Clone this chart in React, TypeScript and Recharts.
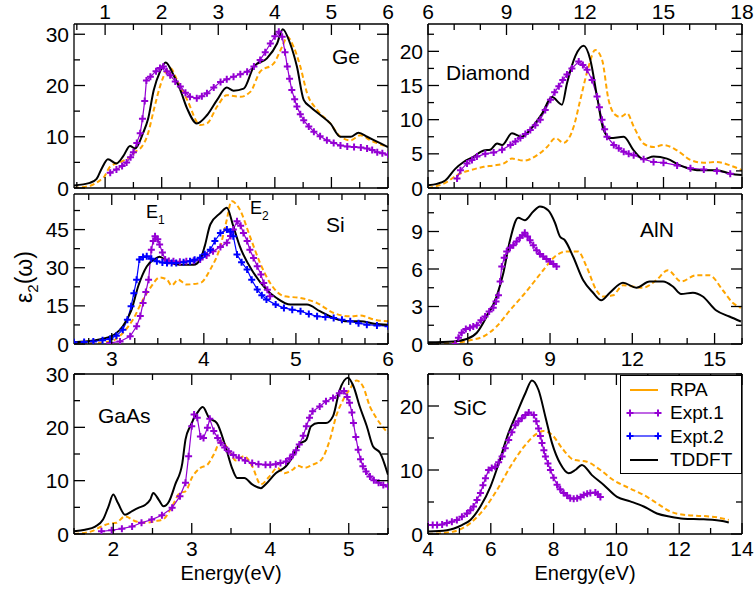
import React from 'react';
import { LineChart, Line, XAxis, YAxis, Legend } from 'recharts';

const FONT = '"Liberation Sans", Arial, Helvetica, sans-serif';
const W = 754;
const H = 592;

// ---------- Ge ----------
const geXMajor = [1, 2, 3, 4, 5, 6];
const geXMinor = [0.5, 1.5, 2.5, 3.5, 4.5, 5.5];
const geYMajor = [0, 10, 20, 30];
const geYMinor = [5, 15, 25];
const geRpa = [[0.45,0],[0.75,0.5],[0.91,1.5],[0.97,2.0],[1.09,4.2],[1.2,4.8],[1.3,5.2],[1.44,6.1],[1.55,7.2],[1.62,7.7],[1.76,10.7],[1.86,15.2],[1.97,19.8],[2.09,23.0],[2.15,23.4],[2.27,21.1],[2.45,17.2],[2.68,12.3],[2.8,12.6],[2.98,15.9],[3.15,18.1],[3.39,17.8],[3.57,18.8],[3.74,22.7],[3.98,24.3],[4.13,27.6],[4.22,29.5],[4.33,27.6],[4.45,23.7],[4.57,18.5],[4.75,15.2],[4.98,12.6],[5.16,10.0],[5.34,9.3],[5.51,10.3],[5.69,9.3],[6.0,8.0]];
const geExpt1 = [[1.09,3.0],[1.2,3.6],[1.3,4.3],[1.38,5.0],[1.45,6.0],[1.5,7.0],[1.56,8.8],[1.62,10.7],[1.66,13.5],[1.7,17.0],[1.73,21.0],[1.8,21.7],[1.9,22.8],[1.97,23.4],[2.03,23.7],[2.09,22.8],[2.15,22.0],[2.24,20.8],[2.33,19.8],[2.42,18.6],[2.5,17.8],[2.62,17.5],[2.71,17.9],[2.8,18.5],[2.92,19.6],[3.04,20.7],[3.15,21.2],[3.27,21.7],[3.39,22.2],[3.51,22.7],[3.63,23.7],[3.74,25.0],[3.83,26.5],[3.92,28.2],[4.0,29.6],[4.07,30.5],[4.13,29.5],[4.18,26.5],[4.22,23.7],[4.26,21.3],[4.3,19.1],[4.35,17.3],[4.39,15.9],[4.45,14.4],[4.51,13.2],[4.6,12.0],[4.69,11.0],[4.8,10.1],[4.92,9.3],[5.04,8.8],[5.16,8.3],[5.28,8.1],[5.4,8.0],[5.52,7.9],[5.63,7.7],[5.72,7.4],[5.81,7.0],[5.9,6.8],[6.0,6.5]];
const geTddft = [[0.45,0.5],[0.73,1.0],[0.85,1.8],[0.94,3.8],[1.05,5.6],[1.2,4.8],[1.32,6.2],[1.44,8.2],[1.53,7.7],[1.67,10.7],[1.76,13.5],[1.86,19.1],[1.97,22.7],[2.07,24.5],[2.21,22.0],[2.33,19.1],[2.45,15.5],[2.62,12.6],[2.8,14.2],[2.98,17.2],[3.15,19.6],[3.27,19.0],[3.45,19.4],[3.63,23.7],[3.86,25.3],[4.04,28.2],[4.14,31.0],[4.27,28.2],[4.39,23.7],[4.51,17.2],[4.63,15.8],[4.81,14.2],[4.98,12.6],[5.16,10.0],[5.34,10.0],[5.48,10.8],[5.63,10.0],[5.87,8.7],[6.0,8.0]];

// ---------- Diamond ----------
const diaXMajor = [6, 9, 12, 15, 18];
const diaXMinor = [7, 8, 10, 11, 13, 14, 16, 17];
const diaYMajor = [0, 5, 10, 15, 20];
const diaYMinor = [2.5, 7.5, 12.5, 17.5, 22.5];
const diaRpa = [[6,0],[6.73,0.9],[7.11,1.9],[7.62,2.6],[8.13,3.1],[8.51,3.3],[8.9,3.6],[9.21,4.3],[9.66,4.0],[10.17,4.8],[10.55,6.0],[10.87,7.3],[11.18,6.6],[11.57,9.0],[11.82,12.9],[12.14,17.8],[12.39,20.2],[12.65,18.8],[12.9,12.9],[13.16,10.7],[13.35,10.4],[13.61,10.9],[13.86,9.0],[14.24,6.5],[14.62,6.0],[15.0,6.3],[15.52,5.5],[16.03,4.1],[16.54,3.7],[17.04,3.8],[17.55,3.3],[18,2.6]];
const diaExpt1 = [[7.11,1.4],[7.24,2.6],[7.49,3.6],[7.68,4.1],[7.87,4.6],[8.19,5.0],[8.51,5.2],[8.83,5.6],[9.15,6.3],[9.34,6.8],[9.53,7.3],[9.72,7.9],[9.91,8.5],[10.1,9.2],[10.29,10.0],[10.48,11.4],[10.68,12.9],[10.84,14.0],[11.0,14.9],[11.15,15.8],[11.31,16.6],[11.5,17.5],[11.76,18.5],[11.92,18.0],[12.08,17.3],[12.27,15.8],[12.46,13.4],[12.55,11.8],[12.65,10.0],[12.75,8.6],[12.84,7.5],[13.1,6.3],[13.29,5.8],[13.48,5.3],[13.67,5.0],[13.86,4.8],[14.24,4.2],[14.62,3.8],[15.0,3.7],[15.52,3.3],[16.03,2.9],[16.54,2.7],[17.04,2.5],[17.55,2.1]];
const diaTddft = [[6,0.4],[6.34,0.6],[6.66,1.1],[7.04,2.8],[7.36,3.8],[7.75,4.6],[8.13,5.5],[8.38,5.6],[8.64,6.5],[8.83,6.3],[9.21,8.0],[9.59,7.5],[10.04,9.2],[10.36,10.9],[10.74,13.3],[11.12,12.2],[11.31,15.3],[11.63,19.3],[11.95,20.8],[12.2,18.8],[12.46,13.4],[12.71,8.5],[12.97,7.3],[13.48,7.5],[13.86,5.5],[14.24,4.2],[14.62,4.6],[15.13,4.3],[15.64,3.3],[16.28,2.6],[17.04,2.6],[17.55,2.1],[18,1.9]];

// ---------- Si ----------
const siXMajor = [3, 4, 5, 6];
const siXMinor = [2.75, 3.25, 3.5, 3.75, 4.25, 4.5, 4.75, 5.25, 5.5, 5.75];
const siYMajor = [0, 15, 30, 45];
const siYMinor = [7.5, 22.5, 37.5, 52.5];
const siRpa = [[2.59,0.1],[2.98,1.0],[3.12,4.3],[3.23,9.6],[3.34,17.5],[3.43,22.7],[3.52,26.2],[3.6,25.3],[3.65,23.0],[3.72,25.3],[3.81,23.4],[3.96,24.0],[4.07,29.3],[4.18,38.5],[4.25,49.0],[4.3,56.2],[4.39,52.9],[4.5,42.4],[4.61,31.9],[4.72,24.0],[4.87,18.8],[5.05,18.1],[5.23,16.1],[5.41,12.2],[5.59,10.9],[5.7,11.2],[5.85,9.6],[6.0,8.9]];
const siExpt1 = [[2.98,0.4],[3.09,1.0],[3.2,3.0],[3.27,7.0],[3.31,11],[3.34,16.1],[3.37,20.5],[3.4,25.3],[3.43,37.1],[3.45,40.5],[3.47,42.4],[3.5,41.2],[3.52,39.1],[3.55,36],[3.58,33.2],[3.62,32.6],[3.67,32.5],[3.74,32.4],[3.81,32.5],[3.89,32.7],[3.96,33.2],[4.03,34.8],[4.1,36.5],[4.18,38.2],[4.25,39.8],[4.29,42.5],[4.32,45.0],[4.36,48.3],[4.4,46.5],[4.43,43.7],[4.47,40.5],[4.5,37.1],[4.54,33.8],[4.58,30.6],[4.62,27.3],[4.65,24.0],[4.69,21.3],[4.72,18.8]];
const siExpt2 = [[2.59,0.7],[2.7,0.8],[2.8,1.0],[2.9,1.5],[2.98,2.0],[3.05,3.2],[3.12,5.6],[3.17,9.5],[3.21,14.8],[3.24,20],[3.27,25.3],[3.3,33.2],[3.34,34.2],[3.38,34.5],[3.43,33.5],[3.49,32.5],[3.55,32.1],[3.6,31.9],[3.65,31.9],[3.7,31.9],[3.78,32.2],[3.85,32.5],[3.9,33.1],[3.96,33.9],[4.01,35.3],[4.07,37.1],[4.12,40.5],[4.18,43.7],[4.25,45.0],[4.29,44.2],[4.32,42.4],[4.36,35.2],[4.41,32.2],[4.47,29.3],[4.52,25.3],[4.58,21.4],[4.63,19.2],[4.68,17.5],[4.78,15.5],[4.87,14.2],[4.96,13.5],[5.05,12.9],[5.14,11.8],[5.23,10.9],[5.32,10.6],[5.41,10.2],[5.5,9.5],[5.59,8.9],[5.68,8.2],[5.77,7.6],[5.88,7.3],[6.0,7.0]];
const siTddft = [[2.59,0.7],[2.8,1.4],[2.94,2.4],[3.03,3.7],[3.12,7.0],[3.21,13.0],[3.29,23.0],[3.38,30.5],[3.47,33.5],[3.52,34.3],[3.6,32.5],[3.74,31.2],[3.89,31.2],[3.96,33.2],[4.01,38.5],[4.07,47.0],[4.18,51.5],[4.25,53.6],[4.32,46.3],[4.39,38.5],[4.54,28.0],[4.68,21.4],[4.79,18.1],[4.94,15.5],[5.12,15.5],[5.26,12.9],[5.41,10.2],[5.56,8.9],[5.7,8.9],[5.85,8.0],[6.0,7.6]];

// ---------- AlN ----------
const alnXMajor = [6, 9, 12, 15];
const alnXMinor = [5, 7, 8, 10, 11, 13, 14, 16];
const alnYMajor = [0, 3, 6, 9];
const alnYMinor = [1.5, 4.5, 7.5, 10.5];
const alnRpa = [[4.55,0],[5.6,0.1],[6.08,0.3],[6.57,0.6],[7.05,1.4],[7.54,2.7],[8.02,3.9],[8.39,4.9],[8.75,5.9],[9.18,7.0],[9.6,7.4],[10.02,7.4],[10.33,6.2],[10.69,4.3],[10.93,3.8],[11.3,3.9],[11.66,4.7],[12.02,4.6],[12.39,4.5],[12.87,5.1],[13.3,5.9],[13.78,5.0],[14.33,5.5],[14.81,5.5],[15.3,4.3],[15.66,3.3],[15.96,2.9]];
const alnExpt1 = [[5.54,0],[5.66,0.5],[5.78,0.9],[5.93,1.2],[6.08,1.3],[6.2,1.4],[6.33,1.5],[6.48,1.9],[6.63,2.2],[6.78,2.6],[6.93,2.9],[7.03,3.4],[7.12,3.9],[7.18,5.0],[7.24,6.2],[7.33,6.9],[7.42,7.4],[7.54,7.7],[7.66,7.9],[7.78,8.2],[7.9,8.5],[8.0,8.7],[8.08,8.9],[8.18,8.6],[8.27,8.3],[8.39,7.9],[8.51,7.5],[8.63,7.2],[8.75,7.0],[8.87,6.8],[9.0,6.6],[9.12,6.4],[9.24,6.2]];
const alnTddft = [[4.55,0.13],[5.48,0.2],[5.96,0.4],[6.33,0.9],[6.69,2.2],[7.05,3.8],[7.3,5.7],[7.54,8.3],[7.84,10.1],[8.08,9.9],[8.39,10.6],[8.63,11.0],[8.93,10.7],[9.18,9.7],[9.36,8.6],[9.54,8.3],[9.84,7.0],[10.21,5.1],[10.57,4.1],[10.87,3.5],[11.18,4.1],[11.66,4.9],[12.15,4.5],[12.63,5.0],[13.12,5.0],[13.48,4.6],[13.78,4.0],[14.21,4.1],[14.57,3.8],[15.05,2.7],[15.54,2.2],[15.96,1.8]];

// ---------- GaAs ----------
const gaXMajor = [2, 3, 4, 5];
const gaXMinor = [1.5, 2.5, 3.5, 4.5, 5.5];
const gaYMajor = [0, 10, 20, 30];
const gaYMinor = [5, 15, 25];
const gaRpa = [[1.5,0],[1.72,0.5],[1.85,1.4],[1.94,1.9],[2.04,2.1],[2.15,3.3],[2.28,2.4],[2.41,2.1],[2.53,2.4],[2.64,2.8],[2.75,5.2],[2.85,7.7],[2.92,8.0],[3.01,10.8],[3.11,12.4],[3.2,13.0],[3.28,14.9],[3.37,17.4],[3.47,15.8],[3.56,13.8],[3.67,14.6],[3.77,12.7],[3.88,9.3],[3.99,10.8],[4.09,12.4],[4.18,11.4],[4.29,12.1],[4.35,12.8],[4.44,12.4],[4.54,13.0],[4.65,13.9],[4.76,17.7],[4.84,22.1],[4.93,25.2],[5.01,27.1],[5.1,28.8],[5.18,27.7],[5.27,23.9],[5.35,21.8],[5.5,18.9]];
const gaExpt1 = [[1.85,0.5],[1.98,0.7],[2.11,1.0],[2.24,1.4],[2.36,2.1],[2.49,2.7],[2.62,3.5],[2.75,4.9],[2.85,7.1],[2.92,9.6],[2.96,14.6],[3.0,20.2],[3.03,22.4],[3.07,21.8],[3.11,18.3],[3.15,18.0],[3.2,19.9],[3.23,21.6],[3.28,19.3],[3.33,18.0],[3.37,17.1],[3.42,16.2],[3.47,15.5],[3.53,14.8],[3.6,14.3],[3.68,13.8],[3.77,13.3],[3.85,13.1],[3.94,13.0],[4.0,13.0],[4.07,13.1],[4.13,13.3],[4.2,13.6],[4.25,14.2],[4.29,14.9],[4.33,15.7],[4.37,16.8],[4.42,18.4],[4.46,20.2],[4.5,21.8],[4.54,23.0],[4.63,23.9],[4.71,24.9],[4.8,25.5],[4.88,26.4],[4.94,26.8],[4.98,25.7],[5.01,24.6],[5.04,22.8],[5.06,20.8],[5.09,18.2],[5.12,15.8],[5.15,14.0],[5.18,12.7],[5.22,11.7],[5.27,10.8],[5.32,10.1],[5.38,9.6],[5.44,9.2],[5.5,8.9]];
const gaTddft = [[1.5,0.5],[1.64,0.8],[1.77,1.4],[1.87,2.7],[1.94,5.2],[2.0,7.4],[2.06,5.8],[2.15,3.6],[2.24,4.3],[2.32,4.9],[2.41,5.5],[2.47,6.4],[2.51,7.7],[2.58,6.4],[2.64,5.2],[2.71,6.1],[2.79,9.3],[2.88,13.3],[2.92,17.7],[2.98,20.2],[3.07,22.7],[3.14,23.8],[3.22,21.8],[3.32,20.8],[3.43,16.4],[3.52,12.1],[3.58,10.5],[3.67,10.5],[3.77,9.3],[3.88,8.6],[3.94,9.3],[4.07,11.4],[4.2,12.7],[4.29,14.6],[4.37,16.8],[4.46,17.7],[4.52,20.2],[4.61,20.8],[4.71,20.8],[4.8,22.1],[4.88,26.8],[4.99,29.3],[5.06,27.7],[5.14,23.9],[5.23,20.2],[5.31,16.4],[5.4,15.2],[5.5,11.1]];

// ---------- SiC ----------
const sicXMajor = [4, 6, 8, 10, 12, 14];
const sicXMinor = [5, 7, 9, 11, 13];
const sicYMajor = [0, 10, 20];
const sicYMinor = [5, 15, 25];
const sicRpa = [[4,0],[4.82,0.4],[5.35,1.7],[5.77,3.8],[6.2,6.9],[6.62,10.5],[7.05,13.6],[7.47,15.7],[7.68,16.1],[7.95,15.5],[8.27,13.4],[8.64,11.6],[9.06,11.3],[9.49,10.0],[9.91,8.4],[10.44,7.1],[10.87,6.1],[11.29,4.8],[11.72,3.5],[12.14,3.0],[12.78,2.8],[13.2,2.6],[13.58,2.2]];
const sicExpt1 = [[4.0,1.4],[4.15,1.4],[4.29,1.4],[4.45,1.5],[4.6,1.7],[4.76,1.9],[4.92,2.2],[5.08,2.7],[5.24,3.2],[5.35,3.7],[5.45,4.3],[5.56,5.3],[5.67,6.4],[5.75,7.6],[5.83,8.7],[5.93,10.0],[6.03,10.3],[6.14,10.5],[6.25,11.2],[6.36,12.1],[6.46,13.4],[6.57,14.7],[6.67,15.9],[6.78,17.0],[6.88,17.6],[6.99,18.1],[7.1,18.6],[7.21,19.0],[7.37,18.6],[7.45,17.6],[7.52,16.5],[7.58,15.3],[7.63,14.2],[7.69,13.1],[7.74,12.1],[7.82,11.0],[7.9,10.0],[8.0,8.8],[8.11,7.7],[8.21,7.0],[8.32,6.4],[8.43,6.0],[8.53,5.6],[8.64,5.5],[8.75,5.6],[8.86,5.8],[8.96,6.1],[9.07,6.3],[9.17,6.4],[9.33,6.5],[9.41,6.2],[9.49,5.8]];
const sicTddft = [[4,0.4],[4.6,0.6],[5.08,1.4],[5.35,2.2],[5.67,4.3],[5.99,7.4],[6.25,11.0],[6.52,15.2],[6.83,18.9],[7.1,22.0],[7.31,24.0],[7.52,22.5],[7.74,18.3],[7.95,14.2],[8.21,11.0],[8.48,9.5],[8.69,10.0],[8.9,10.8],[9.22,9.2],[9.59,7.7],[10.02,5.8],[10.44,5.1],[10.87,4.3],[11.29,3.2],[11.72,2.7],[12.14,2.4],[12.78,2.3],[13.42,2.0],[13.58,1.8]];

const legendItems = [
  { name: 'RPA', kind: 'rpa' },
  { name: 'Expt.1', kind: 'expt1' },
  { name: 'Expt.2', kind: 'expt2' },
  { name: 'TDDFT', kind: 'tddft' },
];

type Kind = 'rpa' | 'expt1' | 'expt2' | 'tddft';
const COLORS: Record<Kind, string> = { rpa: '#FFA500', expt1: '#9400D3', expt2: '#0000FF', tddft: '#000000' };

// axis band sizes (ticks are drawn by hand, labels overflow the bands)
const TOP_H = 20, BOTTOM_H = 20, LEFT_W = 40, RIGHT_W = 5;
const MAJOR_LEN = 11, MINOR_LEN = 6;

const pts = (a: number[][]) => a.map(([x, y]) => ({ x, y }));

type Side = 'top' | 'bottom' | 'left' | 'right';

function tickRenderer(side: Side, major: number[], labels: boolean) {
  return function TickMark(props: any) {
    const { x, y, payload } = props;
    const v = payload.value;
    const big = major.includes(v);
    const len = big ? MAJOR_LEN : MINOR_LEN;
    const show = labels && big;
    const txt = { fontSize: 21, fontFamily: FONT, fill: '#000' };
    let line = null;
    let label = null;
    if (side === 'bottom') {
      line = <line x1={x} x2={x} y1={y} y2={y - len} />;
      if (show) label = <text x={x} y={y + 22} textAnchor="middle" {...txt}>{v}</text>;
    } else if (side === 'top') {
      line = <line x1={x} x2={x} y1={y} y2={y + len} />;
      if (show) label = <text x={x} y={y - 5} textAnchor="middle" {...txt}>{v}</text>;
    } else if (side === 'left') {
      line = <line x1={x} x2={x + len} y1={y} y2={y} />;
      if (show) label = <text x={x - 5} y={y + 7.5} textAnchor="end" {...txt}>{v}</text>;
    } else {
      line = <line x1={x} x2={x - len} y1={y} y2={y} />;
    }
    return (
      <g stroke="#000" strokeWidth={1.3}>
        {line}
        {label && <g stroke="none">{label}</g>}
      </g>
    );
  };
}

function PlusDot(color: string) {
  return function Dot(props: any) {
    const { cx, cy, index } = props;
    if (cx == null || cy == null) return <g key={index} />;
    const r = 3.5;
    return (
      <path key={index} d={`M${cx - r},${cy}H${cx + r}M${cx},${cy - r}V${cy + r}`} stroke={color} strokeWidth={2} fill="none" />
    );
  };
}

type Box = { left: number; top: number; right: number; bottom: number };
type Series = { kind: Kind; data: number[][] };

interface PanelProps {
  box: Box;
  xDomain: [number, number];
  yDomain: [number, number];
  xMajor: number[];
  xMinor: number[];
  yMajor: number[];
  yMinor: number[];
  topLabels?: boolean;
  bottomLabels?: boolean;
  series: Series[];
  children?: React.ReactNode;
}

function Panel({ box, xDomain, yDomain, xMajor, xMinor, yMajor, yMinor, topLabels, bottomLabels, series, children }: PanelProps) {
  const margin = {
    top: box.top - TOP_H,
    bottom: H - box.bottom - BOTTOM_H,
    left: box.left - LEFT_W,
    right: W - box.right - RIGHT_W,
  };
  const xTicks = [...xMajor, ...xMinor].sort((a, b) => a - b);
  const yTicks = [...yMajor, ...yMinor].sort((a, b) => a - b);
  const axisLine = { stroke: '#000', strokeWidth: 1.3 };

  return (
    <div style={{ position: 'absolute', left: 0, top: 0 }}>
      <LineChart width={W} height={H} margin={margin}>
        <XAxis xAxisId="b" dataKey="x" type="number" domain={xDomain} ticks={xTicks} interval={0}
          allowDataOverflow height={BOTTOM_H} tickSize={0} tickMargin={0} tickLine={false}
          axisLine={axisLine} tick={tickRenderer('bottom', xMajor, !!bottomLabels)} />
        <XAxis xAxisId="t" orientation="top" dataKey="x" type="number" domain={xDomain} ticks={xTicks} interval={0}
          allowDataOverflow height={TOP_H} tickSize={0} tickMargin={0} tickLine={false}
          axisLine={axisLine} tick={tickRenderer('top', xMajor, !!topLabels)} />
        <YAxis yAxisId="l" type="number" domain={yDomain} ticks={yTicks} interval={0}
          allowDataOverflow width={LEFT_W} tickSize={0} tickMargin={0} tickLine={false}
          axisLine={axisLine} tick={tickRenderer('left', yMajor, true)} />
        <YAxis yAxisId="r" orientation="right" type="number" domain={yDomain} ticks={yTicks} interval={0}
          allowDataOverflow width={RIGHT_W} tickSize={0} tickMargin={0} tickLine={false}
          axisLine={axisLine} tick={tickRenderer('right', yMajor, false)} />
        {series.map((s, i) => {
          const expt = s.kind === 'expt1' || s.kind === 'expt2';
          return (
            <Line
              key={i}
              xAxisId="b"
              yAxisId="l"
              data={pts(s.data)}
              dataKey="y"
              type={expt ? 'linear' : 'monotone'}
              stroke={COLORS[s.kind]}
              strokeWidth={expt ? 1.2 : 2}
              strokeDasharray={s.kind === 'rpa' ? '5 3' : undefined}
              dot={expt ? PlusDot(COLORS[s.kind]) : false}
              activeDot={false}
              isAnimationActive={false}
            />
          );
        })}
        {children}
      </LineChart>
    </div>
  );
}

function LegendBox() {
  return (
    <div style={{ width: 122, height: 99, boxSizing: 'border-box', border: '1.3px solid #000', background: '#fff', paddingTop: 2, fontFamily: FONT }}>
      {legendItems.map((it) => {
        const c = COLORS[it.kind as Kind];
        const expt = it.kind === 'expt1' || it.kind === 'expt2';
        return (
          <div key={it.name} style={{ height: 23.3, display: 'flex', alignItems: 'center' }}>
            <svg width={49} height={20} style={{ display: 'block' }}>
              <line x1={9} x2={37} y1={10} y2={10} stroke={c} strokeWidth={expt ? 1.2 : 2} />
              {expt && (
                <path d="M5.5,10H12.5M9,6.5V13.5M33.5,10H40.5M37,6.5V13.5" stroke={c} strokeWidth={2} />
              )}
            </svg>
            <span style={{ fontSize: 19, lineHeight: 1, color: '#000' }}>{it.name}</span>
          </div>
        );
      })}
    </div>
  );
}

const textStyle = { fontFamily: FONT, fill: '#000' };

export default function App() {
  return (
    <div style={{ position: 'absolute', left: 0, top: 0, width: W, height: H, background: '#fff', fontFamily: FONT }}>
      <Panel box={{ left: 74, top: 24, right: 388, bottom: 188 }} xDomain={[0.45, 6]} yDomain={[0, 32]}
        xMajor={geXMajor} xMinor={geXMinor} yMajor={geYMajor} yMinor={geYMinor} topLabels
        series={[{ kind: 'rpa', data: geRpa }, { kind: 'expt1', data: geExpt1 }, { kind: 'tddft', data: geTddft }]}>
        <text x={332} y={64} fontSize={21} {...textStyle}>Ge</text>
      </Panel>

      <Panel box={{ left: 428, top: 24, right: 742, bottom: 188 }} xDomain={[6, 18]} yDomain={[0, 24]}
        xMajor={diaXMajor} xMinor={diaXMinor} yMajor={diaYMajor} yMinor={diaYMinor} topLabels
        series={[{ kind: 'rpa', data: diaRpa }, { kind: 'expt1', data: diaExpt1 }, { kind: 'tddft', data: diaTddft }]}>
        <text x={446} y={80} fontSize={21} {...textStyle}>Diamond</text>
      </Panel>

      <Panel box={{ left: 74, top: 194, right: 388, bottom: 344 }} xDomain={[2.59, 6]} yDomain={[0, 59]}
        xMajor={siXMajor} xMinor={siXMinor} yMajor={siYMajor} yMinor={siYMinor} bottomLabels
        series={[{ kind: 'rpa', data: siRpa }, { kind: 'expt1', data: siExpt1 }, { kind: 'expt2', data: siExpt2 }, { kind: 'tddft', data: siTddft }]}>
        <text x={326} y={232} fontSize={21} {...textStyle}>Si</text>
        <text x={146} y={218} fontSize={18} {...textStyle}>E<tspan fontSize={12} dy={6}>1</tspan></text>
        <text x={250} y={214} fontSize={18} {...textStyle}>E<tspan fontSize={12} dy={6}>2</tspan></text>
        <text transform="translate(32,277) rotate(-90)" textAnchor="middle" fontSize={23} {...textStyle}>
          ε<tspan fontSize={15} dy={6}>2</tspan><tspan dy={-6}>(ω)</tspan>
        </text>
      </Panel>

      <Panel box={{ left: 428, top: 194, right: 742, bottom: 344 }} xDomain={[4.55, 16]} yDomain={[0, 12]}
        xMajor={alnXMajor} xMinor={alnXMinor} yMajor={alnYMajor} yMinor={alnYMinor} bottomLabels
        series={[{ kind: 'rpa', data: alnRpa }, { kind: 'expt1', data: alnExpt1 }, { kind: 'tddft', data: alnTddft }]}>
        <text x={640} y={237} fontSize={21} {...textStyle}>AlN</text>
      </Panel>

      <Panel box={{ left: 74, top: 374, right: 388, bottom: 534 }} xDomain={[1.5, 5.5]} yDomain={[0, 30]}
        xMajor={gaXMajor} xMinor={gaXMinor} yMajor={gaYMajor} yMinor={gaYMinor} bottomLabels
        series={[{ kind: 'rpa', data: gaRpa }, { kind: 'expt1', data: gaExpt1 }, { kind: 'tddft', data: gaTddft }]}>
        <text x={98} y={423} fontSize={21} {...textStyle}>GaAs</text>
        <text x={231} y={580} textAnchor="middle" fontSize={20} {...textStyle}>Energy(eV)</text>
      </Panel>

      <Panel box={{ left: 428, top: 374, right: 742, bottom: 534 }} xDomain={[4, 14]} yDomain={[0, 25]}
        xMajor={sicXMajor} xMinor={sicXMinor} yMajor={sicYMajor} yMinor={sicYMinor} bottomLabels
        series={[{ kind: 'rpa', data: sicRpa }, { kind: 'expt1', data: sicExpt1 }, { kind: 'tddft', data: sicTddft }]}>
        <text x={453} y={415} fontSize={21} {...textStyle}>SiC</text>
        <text x={585} y={580} textAnchor="middle" fontSize={20} {...textStyle}>Energy(eV)</text>
        <Legend layout="horizontal" verticalAlign="middle" align="center"
          wrapperStyle={{ left: 620, top: 375, width: 122, height: 99 }}
          content={() => <LegendBox />} />
      </Panel>
    </div>
  );
}
